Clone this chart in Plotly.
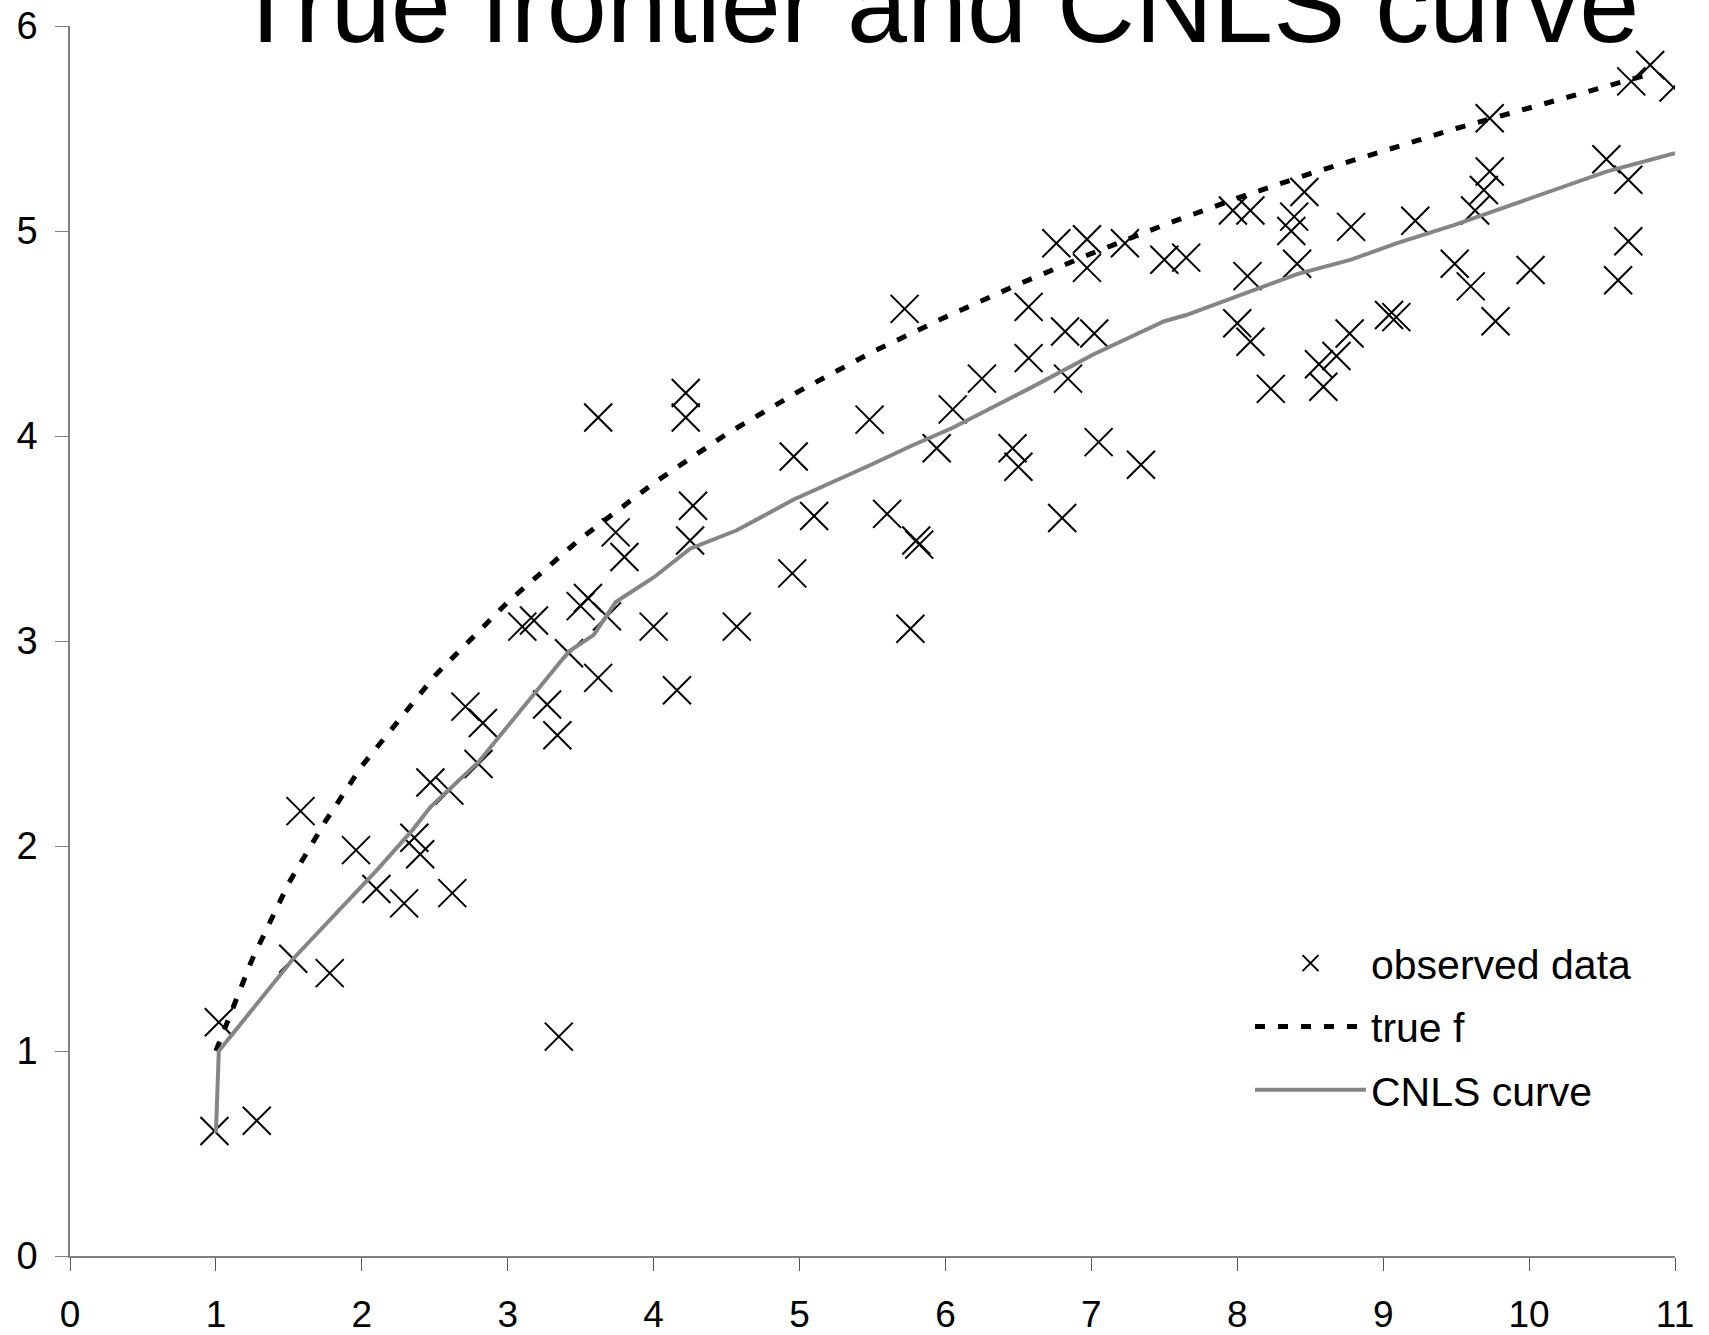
import plotly.graph_objects as go

# ---------------- data ----------------
obs_x = [0.99, 1.28, 1.02, 1.53, 1.78, 1.58, 1.96, 2.10, 2.29, 2.36, 2.40, 2.62, 2.47, 2.60,
         2.71, 2.83, 2.80, 3.35, 3.10, 3.18, 3.27, 3.34, 3.42, 3.50, 3.55, 3.68, 3.62, 3.74,
         3.80, 3.62, 4.00, 4.16, 4.22, 4.22, 4.27, 4.25, 4.57, 4.96, 4.95, 5.10, 5.48, 5.60,
         5.72, 5.76, 5.80, 5.82, 5.94, 6.05, 6.25, 6.46, 6.50, 6.57, 6.57, 6.76, 6.82, 6.84,
         6.80, 6.97, 6.97, 7.02, 7.05, 7.23, 7.34, 7.50, 7.65, 7.97, 8.09, 8.00, 8.07, 8.09,
         8.23, 8.37, 8.39, 8.46, 8.41, 8.56, 8.59, 8.68, 8.77, 8.78, 9.04, 9.09, 9.22, 9.49,
         9.60, 9.63, 9.69, 9.73, 9.73, 9.77, 10.01, 10.53, 10.61, 10.68, 10.68, 10.70, 10.83,
         10.99]
obs_y = [0.61, 0.66, 1.14, 1.45, 1.38, 2.17, 1.98, 1.79, 1.72, 2.04, 1.96, 1.77, 2.31, 2.27,
         2.68, 2.60, 2.40, 1.07, 3.07, 3.10, 2.69, 2.54, 2.94, 3.17, 3.21, 3.12, 2.82, 3.53,
         3.41, 4.09, 3.07, 2.76, 4.21, 4.09, 3.66, 3.49, 3.07, 3.90, 3.33, 3.61, 4.08, 3.62,
         4.62, 3.06, 3.49, 3.47, 3.94, 4.13, 4.28, 3.94, 3.85, 4.63, 4.38, 4.94, 4.51, 4.28,
         3.60, 4.96, 4.82, 4.50, 3.97, 4.94, 3.86, 4.86, 4.87, 5.10, 5.10, 4.55, 4.78, 4.46,
         4.23, 5.00, 5.07, 5.19, 4.84, 4.35, 4.24, 4.39, 4.50, 5.02, 4.59, 4.58, 5.05, 4.84,
         4.73, 5.10, 5.20, 5.29, 5.55, 4.56, 4.81, 5.35, 4.76, 5.25, 4.95, 5.73, 5.81,
         5.70]

true_x = [1.00, 1.25, 1.50, 1.75, 2.00, 2.50, 3.00, 3.50, 4.00, 4.50, 5.00, 5.50, 6.00,
          6.50, 7.00, 7.50, 8.00, 8.50, 9.00, 9.50, 10.00, 10.50, 10.85]
true_y = [1.00, 1.45, 1.82, 2.12, 2.39, 2.83, 3.19, 3.50, 3.77, 4.01, 4.22, 4.41, 4.58,
          4.74, 4.89, 5.03, 5.16, 5.28, 5.39, 5.50, 5.60, 5.70, 5.77]

cnls_x = [1.00, 1.02, 1.53, 1.78, 2.10, 2.35, 2.47, 2.80, 3.18, 3.42, 3.59, 3.74, 4.00,
          4.25, 4.57, 4.96, 5.49, 5.76, 6.05, 6.57, 7.02, 7.23, 7.50, 7.65, 8.00, 8.41,
          8.78, 9.09, 9.49, 9.73, 10.53, 11.00]
cnls_y = [0.60, 1.00, 1.45, 1.64, 1.88, 2.08, 2.19, 2.41, 2.74, 2.95, 3.03, 3.19, 3.31,
          3.45, 3.54, 3.69, 3.86, 3.95, 4.04, 4.23, 4.40, 4.47, 4.56, 4.59, 4.68, 4.79,
          4.86, 4.94, 5.03, 5.09, 5.29, 5.38]

x_ticks = list(range(0, 12))
y_ticks = list(range(0, 7))
title_text = "True frontier and CNLS curve"
names = ["observed data", "true f", "CNLS curve"]

FONT = "Liberation Sans, Arial, Helvetica, sans-serif"

fig = go.Figure()
fig.add_trace(go.Scatter(
    x=obs_x, y=obs_y, mode="markers", name=names[0], legendgroup="a",
    marker=dict(symbol="x-thin-open", size=28, color="black",
                line=dict(width=2, color="black")),
))
fig.add_trace(go.Scatter(
    x=true_x, y=true_y, mode="lines", name=names[1], legendgroup="b",
    line=dict(color="black", width=5, dash="10px,13px"),
))
fig.add_trace(go.Scatter(
    x=cnls_x, y=cnls_y, mode="lines", name=names[2], legendgroup="c",
    line=dict(color="#858585", width=4),
))

fig.update_layout(
    width=1709, height=1335,
    margin=dict(l=70, r=34, t=26, b=79, autoexpand=False),
    paper_bgcolor="white", plot_bgcolor="white",
    font=dict(family=FONT, color="black", size=38),
    title=dict(text=title_text, xref="container", yref="container",
               x=936 / 1709, xanchor="center", y=1 - 42 / 1335, yanchor="bottom",
               font=dict(size=108, family=FONT, color="black")),
    showlegend=True,
    legend=dict(x=(1250 - 70) / 1605, xanchor="left", y=(1256 - 930) / 1230, yanchor="top",
                bgcolor="rgba(0,0,0,0)", font=dict(size=41, family=FONT),
                itemwidth=111, tracegroupgap=7),
)
fig.update_xaxes(
    range=[0, 11], tickvals=x_ticks, ticktext=[str(v) for v in x_ticks],
    showgrid=False, zeroline=False, showline=True, linecolor="#808080", linewidth=1.5,
    ticks="outside", ticklen=13, tickcolor="#555555", tickwidth=1.2,
    tickfont=dict(size=37), ticklabelstandoff=12, automargin=False,
)
fig.update_yaxes(
    range=[0, 6], tickvals=y_ticks, ticktext=[str(v) for v in y_ticks],
    showgrid=False, zeroline=False, showline=True, linecolor="#808080", linewidth=1.5,
    ticks="outside", ticklen=13, tickcolor="#808080", tickwidth=1.2,
    tickfont=dict(size=38), ticklabelstandoff=10, automargin=False,
)

fig.write_html("out.html")
